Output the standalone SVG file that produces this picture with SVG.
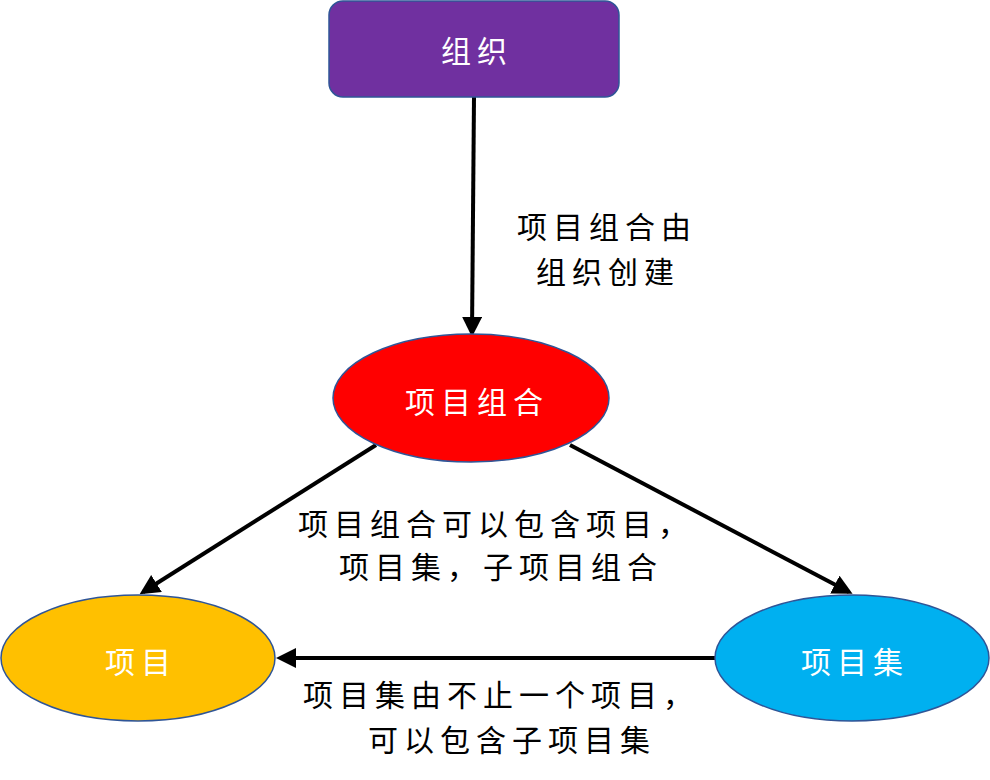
<svg xmlns="http://www.w3.org/2000/svg" width="990" height="780" viewBox="0 0 990 780">
<style>
text{font-family:"Noto Sans CJK SC","Noto Sans",sans-serif;font-size:30px;letter-spacing:6px;text-anchor:middle;dominant-baseline:central}
.w{fill:#fff}
.l{fill:#000}
.c{stroke:#000;stroke-width:4;fill:none;marker-end:url(#a)}
.n{stroke:#2F5597;stroke-width:1.5}
</style>
<defs><marker id="a" markerWidth="5" markerHeight="5" refX="4" refY="2.5" orient="auto"><path d="M0,0L5,2.5L0,5z" fill="#000"/></marker></defs>
<rect width="990" height="780" fill="#fff"/>
<g id="connectors">
<line class="c" x1="474" y1="97" x2="472" y2="333"/>
<line class="c" x1="376" y1="445" x2="143" y2="592"/>
<line class="c" x1="570" y1="445" x2="849" y2="592"/>
<line class="c" x1="715" y1="658" x2="280" y2="658"/>
</g>
<g id="org"><rect class="n" x="329" y="1" width="290" height="96" rx="14" fill="#7030A0"/><text class="w" x="477" y="49">组织</text></g>
<g id="portfolio"><ellipse class="n" cx="471" cy="398" rx="138" ry="64" fill="#FF0000"/><text class="w" x="477" y="400">项目组合</text></g>
<g id="project"><ellipse class="n" cx="138" cy="658" rx="137" ry="63" fill="#FFC000"/><text class="w" x="141" y="660">项目</text></g>
<g id="program"><ellipse class="n" cx="852" cy="658" rx="137" ry="63" fill="#00B0F0"/><text class="w" x="855" y="660">项目集</text></g>
<g id="labels">
<text class="l" x="607" y="225">项目组合由</text>
<text class="l" x="608" y="270">组织创建</text>
<text class="l" x="496" y="522">项目组合可以包含项目，</text>
<text class="l" x="501" y="565">项目集，子项目组合</text>
<text class="l" x="501" y="693">项目集由不止一个项目，</text>
<text class="l" x="512" y="738">可以包含子项目集</text>
</g>
</svg>
